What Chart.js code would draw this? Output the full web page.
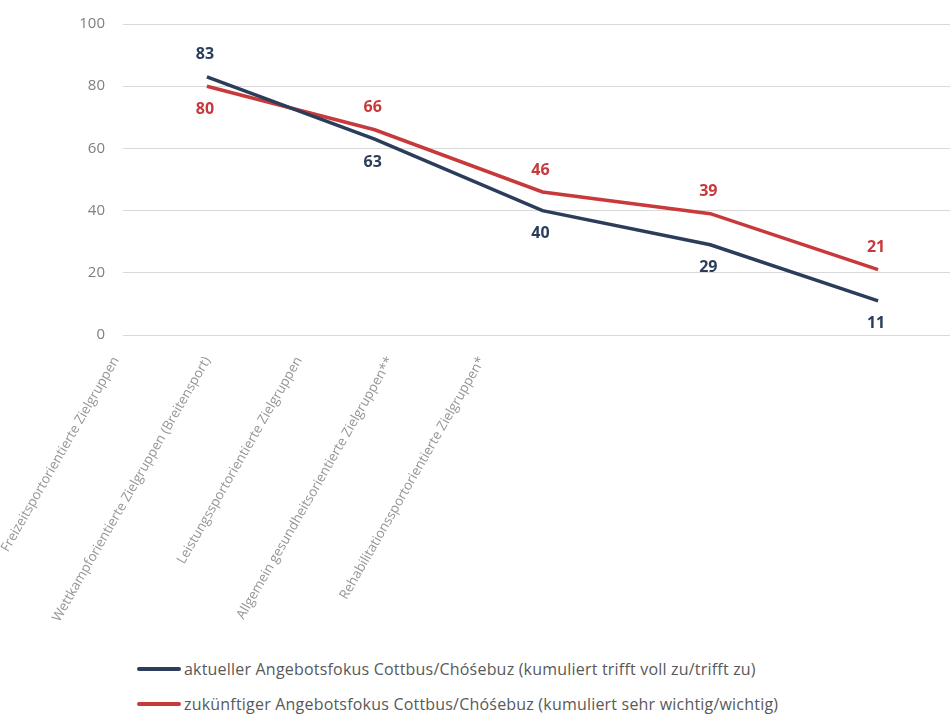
<!DOCTYPE html>
<html lang="de">
<head>
<meta charset="utf-8">
<title>Angebotsfokus Cottbus/Chóśebuz</title>
<script src="https://cdn.jsdelivr.net/npm/chart.js@4/dist/chart.umd.min.js"></script>
<style>
    html, body { margin: 0; padding: 0; background: #fff; overflow: hidden; }
    body { width: 950px; height: 715px; position: relative; font-family: 'Open Sans', sans-serif; }
    .chart-wrap { position: absolute; left: 0; top: -3px; width: 962px; height: 643px; }
    .legend { position: absolute; left: 137px; top: 651px; color: #595959; font-size: 16px; letter-spacing: 0.2px; }
    .legend-row { display: flex; align-items: center; height: 35px; white-space: nowrap; }
    .legend-row span.swatch { display: inline-block; width: 44px; height: 4px; border-radius: 2px; margin-right: 3px; }
</style>
</head>
<body>
<div class="chart-wrap"><canvas id="lineChart"></canvas></div>
<div class="legend" id="legend"></div>

<script>
// ── Data ──────────────────────────────────────────────────────
const categories = [
    'Freizeitsportorientierte Zielgruppen',
    'Wettkampforientierte Zielgruppen (Breitensport)',
    'Leistungssportorientierte Zielgruppen',
    'Allgemein gesundheitsorientierte Zielgruppen**',
    'Rehabilitationssportorientierte Zielgruppen*',
];
const currentFocus = [83, 63, 40, 29, 11];
const futureFocus  = [80, 66, 46, 39, 21];
const yTicks = [0, 20, 40, 60, 80, 100];

const seriesNames = [
    'aktueller Angebotsfokus Cottbus/Chóśebuz (kumuliert trifft voll zu/trifft zu)',
    'zukünftiger Angebotsfokus Cottbus/Chóśebuz (kumuliert sehr wichtig/wichtig)',
];

const NAVY = '#2b3d5b';
const RED  = '#c8393c';

// ── Value labels (above / below each point) ──────────────────
const valueLabels = {
    id: 'valueLabels',
    afterDatasetsDraw(chart) {
        const { ctx } = chart;
        const sides = [
            ['above', 'below', 'below', 'below', 'below'],
            ['below', 'above', 'above', 'above', 'above'],
        ];
        ctx.save();
        ctx.font = 'bold 16px "Open Sans", sans-serif';
        ctx.textAlign = 'center';
        ctx.textBaseline = 'middle';
        chart.data.datasets.forEach((ds, di) => {
            const meta = chart.getDatasetMeta(di);
            ctx.fillStyle = ds.borderColor;
            meta.data.forEach((pt, i) => {
                const dy = sides[di][i] === 'above' ? -22 : 23;
                ctx.fillText(ds.data[i], pt.x - 2, pt.y + dy);
            });
        });
        ctx.restore();
    },
};

// ── Rotated category labels (Excel-style, left-packed) ───────
const slantedLabels = {
    id: 'slantedLabels',
    afterDraw(chart) {
        const { ctx } = chart;
        ctx.save();
        ctx.font = '13.4px "Open Sans", sans-serif';
        ctx.fillStyle = '#969696';
        ctx.textAlign = 'right';
        ctx.textBaseline = 'middle';
        chart.data.labels.forEach((label, i) => {
            ctx.save();
            ctx.translate(chart.chartArea.left - 7 + i * 91.5, chart.chartArea.bottom + 23);
            ctx.rotate(-Math.PI / 3);
            ctx.fillText(label, 0, 0);
            ctx.restore();
        });
        ctx.restore();
    },
};

// ── Chart ─────────────────────────────────────────────────────
const ctx = document.getElementById('lineChart').getContext('2d');
new Chart(ctx, {
    type: 'line',
    data: {
        labels: categories,
        datasets: [
            {
                label: seriesNames[0],
                data: currentFocus,
                borderColor: NAVY,
                backgroundColor: NAVY,
                borderWidth: 3.5,
                pointRadius: 0,
                tension: 0,
            },
            {
                label: seriesNames[1],
                data: futureFocus,
                borderColor: RED,
                backgroundColor: RED,
                borderWidth: 3.5,
                pointRadius: 0,
                tension: 0,
            },
        ],
    },
    options: {
        responsive: true,
        maintainAspectRatio: false,
        animation: false,
        layout: { padding: { top: 11, right: 0, left: 0, bottom: 0 } },
        plugins: {
            legend: { display: false },
            tooltip: { enabled: false },
        },
        scales: {
            x: {
                offset: true,
                grid: { display: false },
                border: { display: false },
                ticks: { display: false },
                afterFit: s => { s.height = 305; },
            },
            y: {
                min: 0,
                max: 100,
                afterBuildTicks: s => { s.ticks = yTicks.map(v => ({ value: v })); },
                grid: { color: '#d9d9d9', lineWidth: 1, drawTicks: false },
                border: { display: false },
                ticks: {
                    color: '#808080',
                    padding: 18,
                    font: { family: 'Open Sans', size: 15 },
                },
                afterFit: s => { s.width = 123; },
            },
        },
    },
    plugins: [valueLabels, slantedLabels],
});

// ── Legend ────────────────────────────────────────────────────
const legendEl = document.getElementById('legend');
[NAVY, RED].forEach((color, i) => {
    const row = document.createElement('div');
    row.className = 'legend-row';
    row.innerHTML = `<span class="swatch" style="background:${color}"></span><span>${seriesNames[i]}</span>`;
    legendEl.appendChild(row);
});
</script>
</body>
</html>
